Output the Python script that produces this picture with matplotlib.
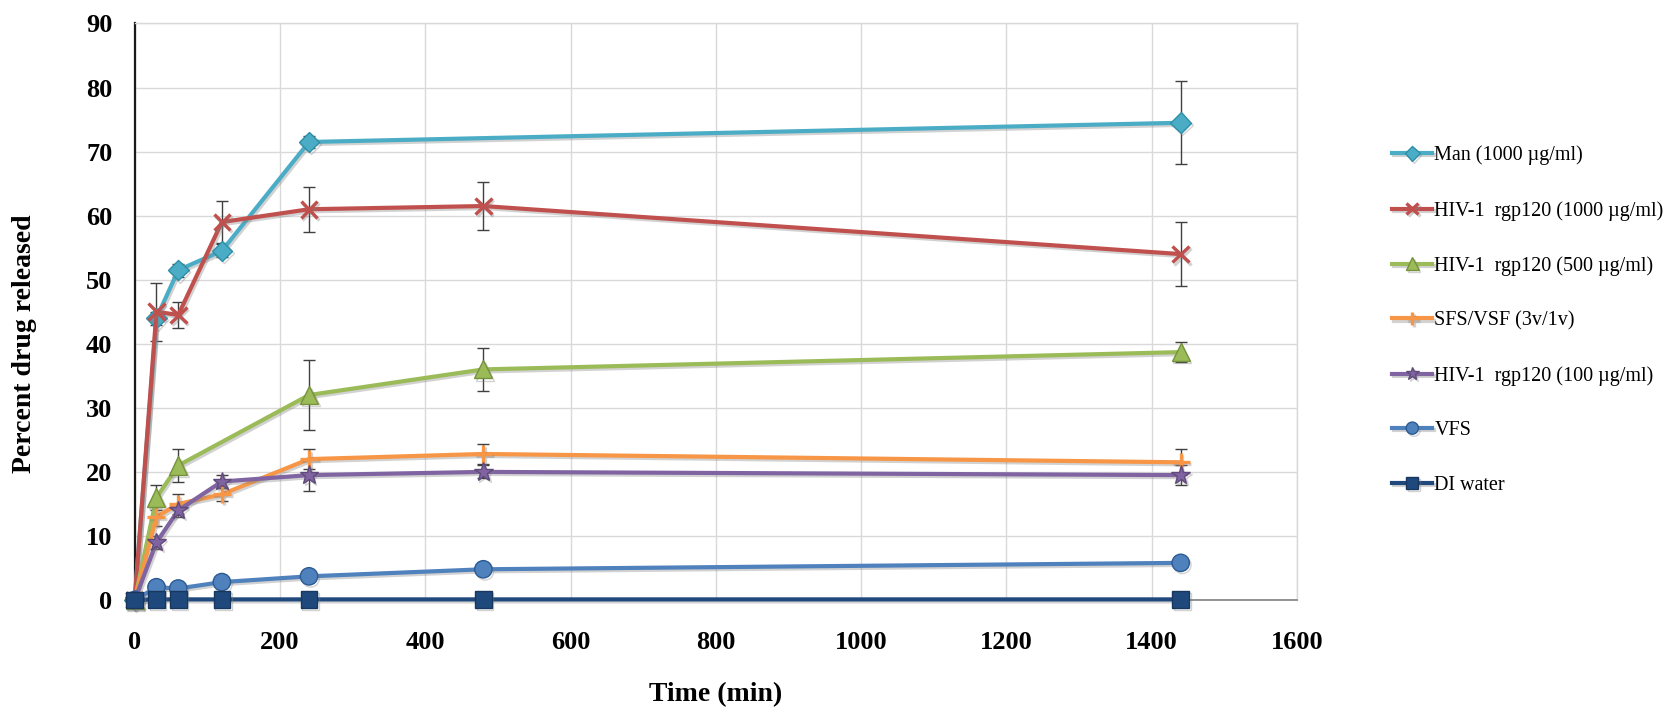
import matplotlib
matplotlib.use("Agg")
import matplotlib.pyplot as plt
import matplotlib.patheffects as pe

# Sampling times (min)
t_full = [0, 30, 60, 120, 240, 480, 1440]
t_man = [0, 30, 60, 120, 240, 1440]
t_500 = [0, 30, 60, 240, 480, 1440]

# Percent drug released and standard deviations
man_1000 = [0, 44.0, 51.5, 54.5, 71.5, 74.5]
man_1000_err = [0, 1.0, 1.0, 1.0, 1.0, 6.5]

rgp_1000 = [0, 45.0, 44.5, 59.0, 61.0, 61.5, 54.0]
rgp_1000_err = [0, 4.5, 2.0, 3.3, 3.5, 3.8, 5.0]

rgp_500 = [0, 16.0, 21.0, 32.0, 36.0, 38.7]
rgp_500_err = [0, 2.0, 2.5, 5.5, 3.3, 1.5]

sfs_vsf = [0, 13.0, 15.0, 16.5, 22.0, 22.8, 21.5]
sfs_vsf_err = [0, 1.5, 1.5, 1.0, 1.5, 1.5, 2.0]

rgp_100 = [0, 9.0, 14.0, 18.5, 19.5, 20.0, 19.5]
rgp_100_err = [0, 1.0, 1.0, 1.0, 2.5, 1.0, 1.5]

vfs = [0, 2.0, 1.8, 2.8, 3.7, 4.8, 5.8]
vfs_err = [0, 0.3, 0.3, 0.3, 0.3, 0.3, 0.3]

di_water = [0, 0.1, 0.1, 0.1, 0.1, 0.1, 0.1]
di_water_err = [0, 0, 0, 0, 0, 0, 0]

labels = [
    "Man (1000 \u00b5g/ml)",
    "HIV-1  rgp120 (1000 \u00b5g/ml)",
    "HIV-1  rgp120 (500 \u00b5g/ml)",
    "SFS/VSF (3v/1v)",
    "HIV-1  rgp120 (100 \u00b5g/ml)",
    "VFS",
    "DI water",
]

x_ticks = [0, 200, 400, 600, 800, 1000, 1200, 1400, 1600]
y_ticks = [0, 10, 20, 30, 40, 50, 60, 70, 80, 90]

series = [
    (t_man, man_1000, man_1000_err, "#4BACC6", "D", 10.5, "#2E8FA8"),
    (t_full, rgp_1000, rgp_1000_err, "#C0504D", "x", 12, "#C0504D"),
    (t_500, rgp_500, rgp_500_err, "#9BBB59", "^", 13, "#76923C"),
    (t_full, sfs_vsf, sfs_vsf_err, "#F79646", "+", 13, "#F79646"),
    (t_full, rgp_100, rgp_100_err, "#8064A2", "*", 14, "#604A7B"),
    (t_full, vfs, vfs_err, "#4F81BD", "o", 12.5, "#2C5A93"),
    (t_full, di_water, di_water_err, "#1F497D", "s", 12, "#17375E"),
]

plt.rcParams["font.family"] = ["Liberation Serif", "DejaVu Serif"]

fig = plt.figure(figsize=(16.75, 7.09), dpi=100)
ax = fig.add_axes([0.0804, 0.1537, 0.6939, 0.8132])

shadow = [pe.SimpleLineShadow(offset=(1.2, -1.5), alpha=0.35, shadow_color="#808080"),
          pe.Normal()]

handles = []
for (t, y, e, col, mk, ms, edge), lab in zip(series, labels):
    ax.errorbar(t, y, yerr=e, fmt="none", ecolor="#404040", elinewidth=1.0,
                capsize=4, capthick=1.0, zorder=2)
    mew = 2.4 if mk in ("x", "+") else 1.0
    line, = ax.plot(t, y, color=col, lw=3.0, marker=mk, markersize=ms,
                    markerfacecolor=col, markeredgecolor=edge, markeredgewidth=mew,
                    label=lab, zorder=3, path_effects=shadow, clip_on=False)
    handles.append(line)

ax.set_xlim(0, 1600)
ax.set_ylim(0, 90)
ax.set_xticks(x_ticks)
ax.set_yticks(y_ticks)
ax.set_xticklabels([str(v) for v in x_ticks])
ax.set_yticklabels([str(v) for v in y_ticks])
ax.tick_params(axis="both", length=0, labelsize=19)
ax.tick_params(axis="y", pad=16)
ax.tick_params(axis="x", pad=22)
for lbl in ax.get_xticklabels() + ax.get_yticklabels():
    lbl.set_fontweight("bold")

ax.grid(True, color="#D9D9D9", lw=1.0, zorder=0)
ax.set_axisbelow(True)
for s in ("top", "right"):
    ax.spines[s].set_color("#D9D9D9")
    ax.spines[s].set_linewidth(1.0)
ax.spines["left"].set_color("#1a1a1a")
ax.spines["left"].set_linewidth(1.6)
ax.spines["bottom"].set_color("#808080")
ax.spines["bottom"].set_linewidth(1.2)

ax.set_xlabel("Time (min)", fontsize=20, fontweight="bold")
ax.set_ylabel("Percent drug released", fontsize=20, fontweight="bold")
ax.xaxis.set_label_coords(0.5, -0.142)
ax.yaxis.set_label_coords(-0.084, 0.444)

leg = ax.legend(handles=handles, loc="upper left", bbox_to_anchor=(1.075, 0.802),
                frameon=False, fontsize=14.5, handlelength=2.0, handletextpad=0.1,
                labelspacing=1.76, borderaxespad=0.0, markerscale=0.7)

fig.savefig("out.png", dpi=100)
